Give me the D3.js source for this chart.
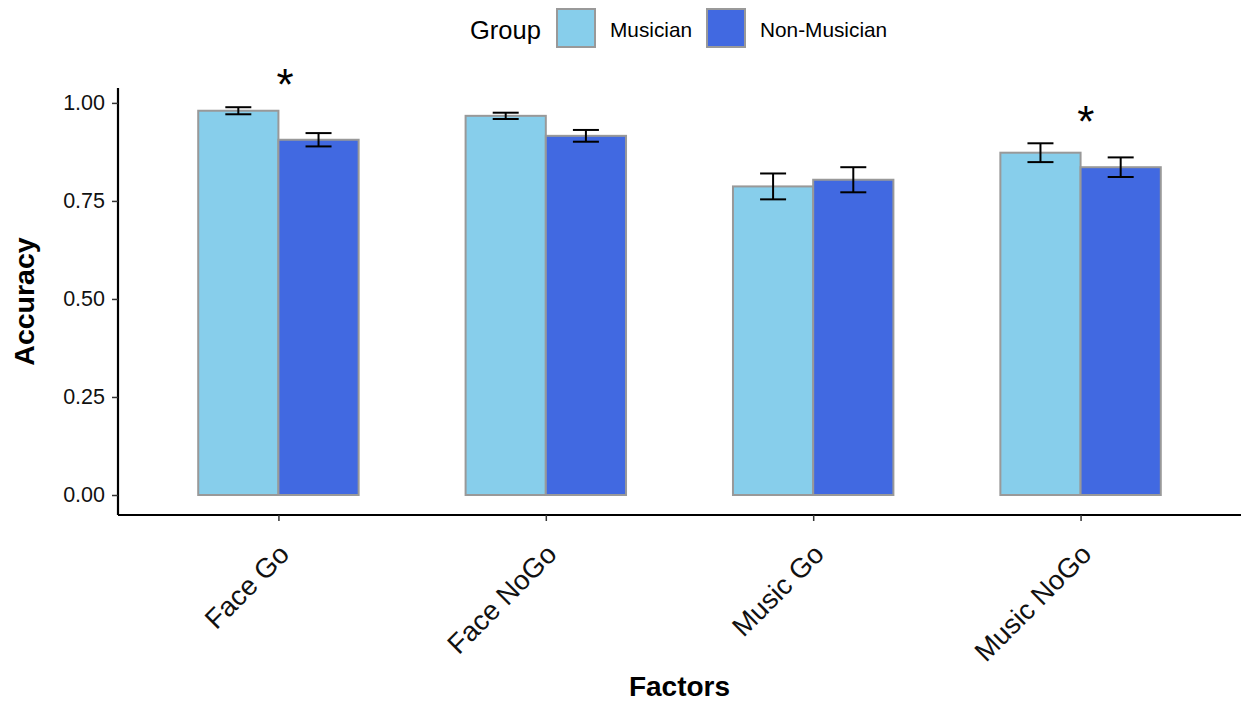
<!DOCTYPE html>
<html>
<head>
<meta charset="utf-8">
<script src="https://cdn.jsdelivr.net/npm/d3@7"></script>
<style>
  body { margin: 0; background: #fff; }
  text { font-family: "Liberation Sans", Arial, Helvetica, sans-serif; }
</style>
</head>
<body>
<div id="chart-area"></div>
<script>
// Data
let factors = ["Face Go", "Face NoGo", "Music Go", "Music NoGo"];
let groups = ["Musician", "Non-Musician"];
let musicianMean = [0.980, 0.967, 0.787, 0.873];
let musicianSE = [0.009, 0.008, 0.033, 0.024];
let nonMusicianMean = [0.906, 0.916, 0.804, 0.836];
let nonMusicianSE = [0.017, 0.015, 0.032, 0.025];
let yTicks = [0, 0.25, 0.5, 0.75, 1.0];
let starFactors = ["Face Go", "Music NoGo"];
let starY = [1.072, 0.978];
let starOffset = [0.025, 0.02];

let colors = {"Musician": "#87CEEB", "Non-Musician": "#4169E1"};

let width = 1243, height = 702;
let panel = {left: 118, right: 1241, top: 88, bottom: 515};

let svg = d3.select("#chart-area")
  .append("svg")
  .attr("width", width)
  .attr("height", height);

// build rows
let rows = [];
factors.forEach((f, i) => {
  rows.push({factor: f, group: "Musician", mean: musicianMean[i], se: musicianSE[i]});
  rows.push({factor: f, group: "Non-Musician", mean: nonMusicianMean[i], se: nonMusicianSE[i]});
});

// scales
let unit = (panel.right - panel.left) / (factors.length - 1 + 1.2);
let x = d3.scalePoint()
  .domain(factors)
  .range([panel.left + 0.6 * unit, panel.right - 0.6 * unit]);

let dodge = 0.6 * unit;
let xGroup = d3.scaleBand()
  .domain(groups)
  .range([-dodge / 2, dodge / 2])
  .padding(0);

let y = d3.scaleLinear()
  .domain([-0.051, 1.038])
  .range([panel.bottom, panel.top]);

// bars
svg.append("g").selectAll("rect")
  .data(rows)
  .enter()
  .append("rect")
  .attr("x", d => x(d.factor) + xGroup(d.group))
  .attr("y", d => y(d.mean))
  .attr("width", xGroup.bandwidth())
  .attr("height", d => y(0) - y(d.mean))
  .attr("fill", d => colors[d.group])
  .attr("stroke", "#999999")
  .attr("stroke-width", 2);

// error bars
let errW = 26;
let eb = svg.append("g").selectAll("g")
  .data(rows)
  .enter()
  .append("g")
  .attr("stroke", "#000")
  .attr("stroke-width", 2)
  .attr("transform", d => "translate(" + (x(d.factor) + xGroup(d.group) + xGroup.bandwidth() / 2) + ",0)");

eb.append("line")
  .attr("x1", 0).attr("x2", 0)
  .attr("y1", d => y(d.mean - d.se))
  .attr("y2", d => y(d.mean + d.se));
eb.append("line")
  .attr("x1", -errW / 2).attr("x2", errW / 2)
  .attr("y1", d => y(d.mean + d.se))
  .attr("y2", d => y(d.mean + d.se));
eb.append("line")
  .attr("x1", -errW / 2).attr("x2", errW / 2)
  .attr("y1", d => y(d.mean - d.se))
  .attr("y2", d => y(d.mean - d.se));

// significance stars
let starSize = 44;
svg.append("g").selectAll("text")
  .data(starFactors)
  .enter()
  .append("text")
  .attr("x", (d, i) => x(d) + starOffset[i] * unit)
  .attr("y", (d, i) => y(starY[i]) + 0.57 * starSize)
  .attr("text-anchor", "middle")
  .style("font-size", starSize + "px")
  .text("*");

// y axis
let yAxis = d3.axisLeft(y)
  .tickValues(yTicks)
  .tickFormat(d3.format(".2f"))
  .tickSize(6)
  .tickPadding(7);

let yAxisGroup = svg.append("g")
  .attr("class", "axis y-axis")
  .attr("transform", "translate(" + panel.left + ",0)")
  .call(yAxis);
yAxisGroup.select(".domain")
  .attr("d", "M0," + panel.top + "V" + panel.bottom)
  .attr("stroke", "#000")
  .attr("stroke-width", 2.2);
yAxisGroup.selectAll(".tick line").attr("stroke", "#333").attr("stroke-width", 1.5);
yAxisGroup.selectAll(".tick text")
  .style("font-size", "21.5px")
  .attr("fill", "#111");

// x axis
let xAxis = d3.axisBottom(x)
  .tickSize(6)
  .tickPadding(6);

let xAxisGroup = svg.append("g")
  .attr("class", "axis x-axis")
  .attr("transform", "translate(0," + panel.bottom + ")")
  .call(xAxis);
xAxisGroup.select(".domain")
  .attr("d", "M" + panel.left + ",0H" + panel.right)
  .attr("stroke", "#000")
  .attr("stroke-width", 2.2);
xAxisGroup.selectAll(".tick line").attr("stroke", "#333").attr("stroke-width", 1.5);
xAxisGroup.selectAll(".tick text")
  .style("font-size", "27.5px")
  .attr("fill", "#111")
  .attr("text-anchor", "end")
  .attr("dy", null)
  .attr("y", 0)
  .attr("transform", "translate(12,41) rotate(-45)");

// axis titles
svg.append("text")
  .attr("x", (panel.left + panel.right) / 2)
  .attr("y", 696)
  .attr("text-anchor", "middle")
  .style("font-size", "28px")
  .style("font-weight", "bold")
  .text("Factors");

svg.append("text")
  .attr("transform", "translate(34," + ((panel.top + panel.bottom) / 2) + ") rotate(-90)")
  .attr("text-anchor", "middle")
  .style("font-size", "28.5px")
  .style("font-weight", "bold")
  .text("Accuracy");

// legend
let legend = svg.append("g").attr("class", "legend");
legend.append("text")
  .attr("x", 470)
  .attr("y", 39)
  .style("font-size", "25.5px")
  .text("Group");

let keyX = [557, 707];
let keys = legend.selectAll("g.key")
  .data(groups)
  .enter()
  .append("g")
  .attr("class", "key")
  .attr("transform", (d, i) => "translate(" + keyX[i] + ",9)");
keys.append("rect")
  .attr("width", 38)
  .attr("height", 38)
  .attr("fill", d => colors[d])
  .attr("stroke", "#999999")
  .attr("stroke-width", 2);
keys.append("text")
  .attr("x", 53)
  .attr("y", 27.5)
  .style("font-size", "20.8px")
  .text(d => d);
</script>
</body>
</html>
